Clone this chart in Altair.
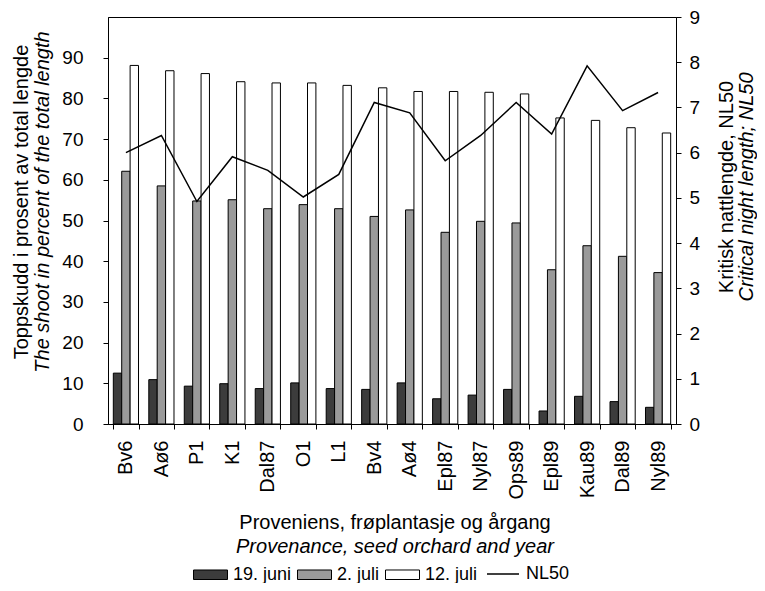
import altair as alt
import pandas as pd

categories = ["Bv6", "Aø6", "P1", "K1", "Dal87", "O1", "L1", "Bv4", "Aø4",
              "Epl87", "Nyl87", "Ops89", "Epl89", "Kau89", "Dal89", "Nyl89"]
juni19 = [12.5, 10.9, 9.3, 9.9, 8.7, 10.1, 8.7, 8.5, 10.1, 6.2, 7.1, 8.5, 3.2, 6.8, 5.5, 4.1]
juli2 = [62.1, 58.5, 54.8, 55.1, 52.9, 53.9, 52.9, 51.0, 52.6, 47.1, 49.8, 49.4, 37.9, 43.8, 41.2, 37.2]
juli12 = [88.1, 86.8, 86.1, 84.1, 83.8, 83.8, 83.2, 82.6, 81.7, 81.7, 81.5, 81.1, 75.2, 74.6, 72.8, 71.5]
nl50 = [6.0, 6.38, 4.92, 5.91, 5.61, 5.02, 5.52, 7.11, 6.88, 5.82, 6.38, 7.11, 6.41, 7.92, 6.93, 7.33]

series_names = ["19. juni", "2. juli", "12. juli"]
series_colors = ["#3c3c3c", "#9a9a9a", "#ffffff"]

rows = []
for name, vals in zip(series_names, [juni19, juli2, juli12]):
    for c, v in zip(categories, vals):
        rows.append({"cat": c, "series": name, "value": v})
bars_df = pd.DataFrame(rows)
line_df = pd.DataFrame({"cat": categories, "nl50": nl50, "s": ["NL50"] * len(categories)})

FONT = "Liberation Sans"
W, H = 568, 407

xenc = alt.X("cat:N", sort=categories,
             scale=alt.Scale(paddingInner=0.29, paddingOuter=0.15),
             axis=alt.Axis(title=None, labelAngle=-90, labelFontSize=20, labelFont=FONT,
                           labelColor="black", tickBand="extent", tickSize=5,
                           labelPadding=11, domainColor="black", tickColor="black"))

bars = alt.Chart(bars_df).mark_bar(stroke="black", strokeWidth=1).encode(
    x=xenc,
    xOffset=alt.XOffset("series:N", sort=series_names, scale=alt.Scale(paddingInner=0)),
    y=alt.Y("value:Q", scale=alt.Scale(domain=[0, 100], nice=False),
            axis=alt.Axis(title=None, values=list(range(0, 100, 10)), grid=False,
                          labelFontSize=19, labelFont=FONT, labelColor="black",
                          tickSize=5, labelPadding=20, domainColor="black",
                          tickColor="black")),
    fill=alt.Fill("series:N", sort=series_names,
                  scale=alt.Scale(domain=series_names, range=series_colors),
                  legend=alt.Legend(orient="none", legendX=85, legendY=540,
                                    direction="horizontal", title=None,
                                    symbolType="M-1,-0.28H1V0.28H-1Z", symbolSize=1156,
                                    symbolStrokeColor="black", symbolStrokeWidth=1,
                                    labelFontSize=18, labelFont=FONT, labelColor="black",
                                    labelOffset=5, columnPadding=3)),
)

line = alt.Chart(line_df).mark_line(color="black", strokeWidth=1.5).encode(
    x=alt.X("cat:N", sort=categories),
    y=alt.Y("nl50:Q", scale=alt.Scale(domain=[0, 9], nice=False),
            axis=alt.Axis(title=None, orient="right", values=list(range(0, 10)),
                          grid=False, labelFontSize=19, labelFont=FONT,
                          labelColor="black", tickSize=5, labelPadding=8,
                          domainColor="black", tickColor="black")),
    stroke=alt.Stroke("s:N", scale=alt.Scale(domain=["NL50"], range=["black"]),
                      legend=alt.Legend(orient="none", legendX=378, legendY=540,
                                        direction="horizontal", title=None,
                                        symbolType="stroke", symbolSize=1024,
                                        symbolStrokeWidth=1.5,
                                        labelFontSize=18, labelFont=FONT,
                                        labelColor="black", labelOffset=6)),
)

main = alt.layer(bars, line).resolve_scale(y="independent")


def label(text, x, y, angle=0, italic=False):
    return alt.Chart(pd.DataFrame({"t": [text]})).mark_text(
        angle=angle, font=FONT, fontSize=20, color="black",
        fontStyle="italic" if italic else "normal", align="center", baseline="middle"
    ).encode(x=alt.value(x), y=alt.value(y), text="t:N")


texts = [
    label("Toppskudd i prosent av total lengde", -86, 185, angle=270),
    label("The shoot in percent of the total length", -65, 185, angle=270, italic=True),
    label("Kritisk nattlengde, NL50", 619, 170, angle=270),
    label("Critical night length; NL50", 639, 170, angle=270, italic=True),
    label("Proveniens, frøplantasje og årgang", 287, 506),
    label("Provenance, seed orchard and year", 287, 530, italic=True),
]

chart = alt.layer(main, *texts).properties(
    width=W, height=H,
    autosize="none",
    padding={"left": 100, "top": 9, "right": 81, "bottom": 159},
).configure_view(stroke="black", strokeWidth=1)

chart.save("out.html", embed_options={"renderer": "svg", "actions": False})
